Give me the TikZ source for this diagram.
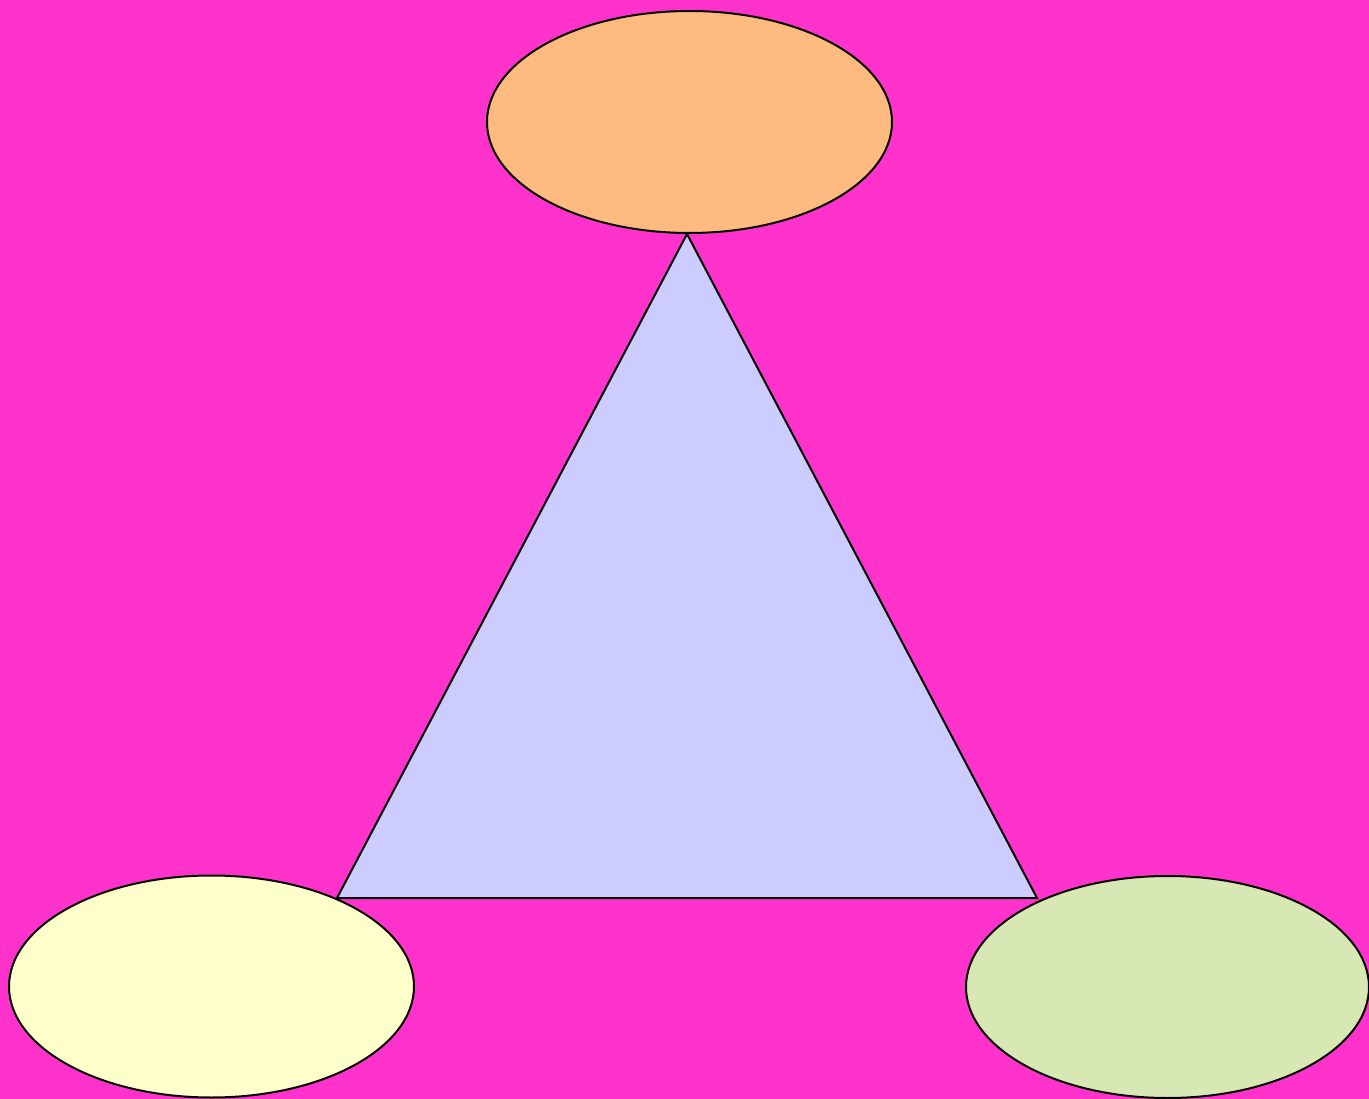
\documentclass[tikz,border=0pt]{standalone}
\usetikzlibrary{shapes.geometric}
\definecolor{bg}{RGB}{255,51,204}
\definecolor{orangefill}{RGB}{255,187,127}
\definecolor{lavender}{RGB}{204,204,255}
\definecolor{yellowfill}{RGB}{255,255,204}
\definecolor{greenfill}{RGB}{215,232,181}
\tikzset{
  oval/.style={ellipse, draw=black, line width=2pt, inner sep=0pt, minimum width=405pt, minimum height=222pt},
  tri/.style={draw=black, line width=2pt, fill=lavender, line join=miter}
}
\begin{document}
\begin{tikzpicture}[x=1pt,y=-1pt]
\fill[bg] (0,0) rectangle (1369,1099);
\useasboundingbox (0,0) rectangle (1369,1099);
\coordinate (apex) at (687,234);
\coordinate (bl) at (337,898);
\coordinate (br) at (1037,898);
\draw[tri] (apex) -- (bl) -- (br) -- cycle;
\node[oval, fill=orangefill] (top) at (689.5,122) {};
\node[oval, fill=yellowfill] (left) at (211.5,986.5) {};
\node[oval, fill=greenfill, minimum width=403pt] (right) at (1167.5,987) {};
\end{tikzpicture}
\end{document}
